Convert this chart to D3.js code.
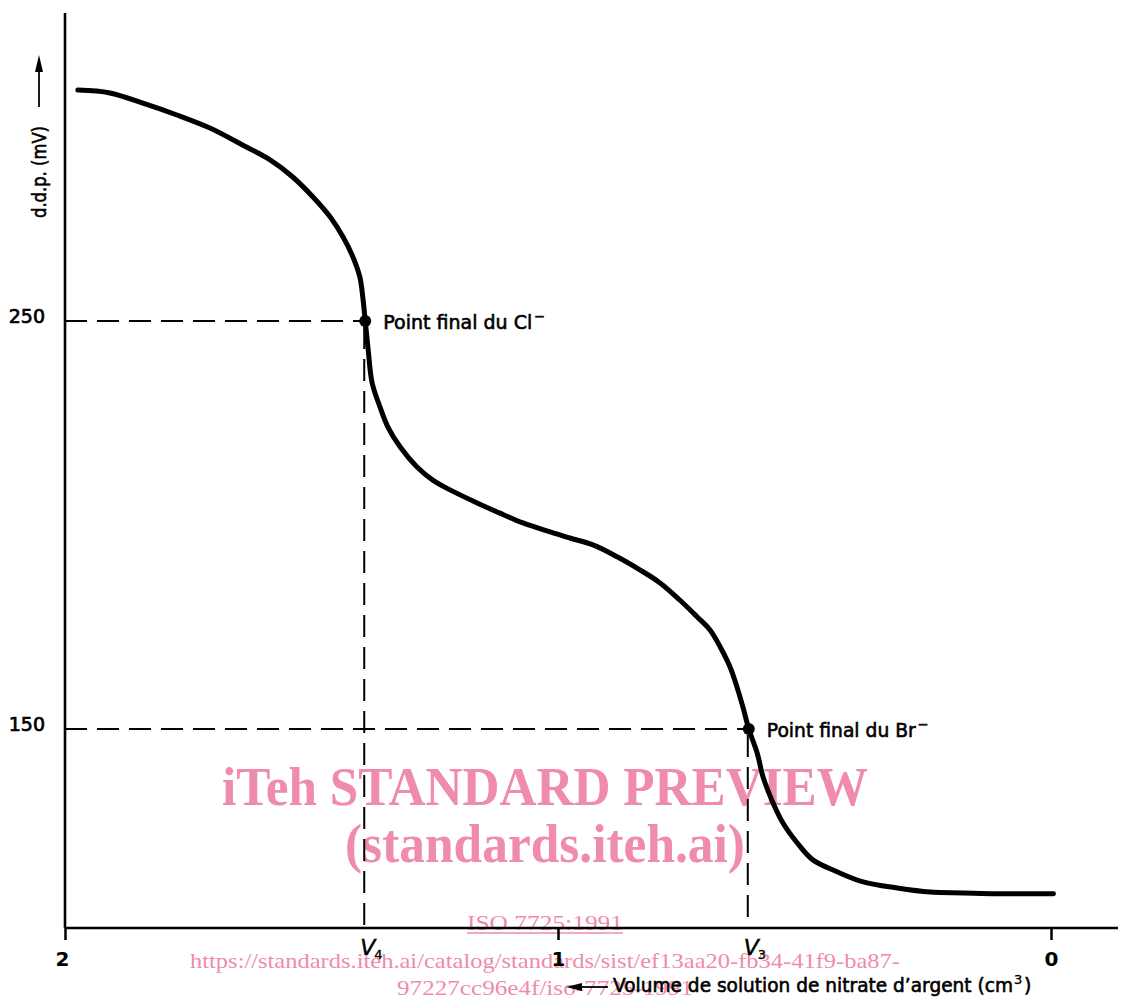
<!DOCTYPE html>
<html>
<head>
<meta charset="utf-8">
<script src="https://cdn.jsdelivr.net/npm/d3@7/dist/d3.min.js"></script>
<style>
  html, body { margin: 0; padding: 0; background: #fff; }
  svg { display: block; }
</style>
</head>
<body>
<svg id="chart" width="1121" height="1001"></svg>
<script>
// ---- Data ----
const xTicks = [2, 1, 0];
const yTicks = [150, 250];

// Titration curve: volume of AgNO3 (cm3) vs d.d.p. (mV)
const volume = [1.974, 1.909, 1.842, 1.773, 1.706, 1.639, 1.584, 1.538, 1.497, 1.462,
  1.436, 1.416, 1.402, 1.396, 1.391, 1.385, 1.377, 1.361, 1.345, 1.320,
  1.286, 1.254, 1.219, 1.164, 1.118, 1.071, 1.016, 0.976, 0.929, 0.880,
  0.834, 0.793, 0.753, 0.718, 0.692, 0.671, 0.651, 0.637, 0.625, 0.613,
  0.596, 0.584, 0.564, 0.544, 0.515, 0.483, 0.434, 0.381, 0.312, 0.245,
  0.178, 0.110, -0.005];
const ddp = [306.6, 305.9, 303.4, 300.5, 297.3, 293.1, 289.5, 285.3, 280.4, 275.5,
  270.6, 265.7, 260.8, 255.9, 250.0, 242.9, 234.8, 228.9, 224.0, 219.1,
  214.2, 211.0, 208.6, 205.4, 202.9, 200.5, 198.3, 196.8, 195.1, 192.2,
  189.0, 185.8, 181.6, 177.5, 174.3, 170.1, 165.2, 160.3, 155.4, 150.0,
  144.1, 138.2, 131.9, 127.0, 122.1, 117.9, 115.0, 112.5, 111.0, 110.0,
  109.8, 109.6, 109.6];

// End points
const endVolumes = [1.391, 0.613];
const endPotentials = [250, 150];
const endLabels = ["Point final du Cl", "Point final du Br"];
const endVLabels = ["4", "3"];

const yLabel = "d.d.p. (mV)";
const xLabel = "Volume de solution de nitrate d\u2019argent (cm";

const watermark1 = "iTeh STANDARD PREVIEW";
const watermark2 = "(standards.iteh.ai)";
const watermark3 = "ISO 7725:1991";
const watermark4 = "https://standards.iteh.ai/catalog/standards/sist/ef13aa20-fb34-41f9-ba87-";
const watermark5 = "97227cc96e4f/iso-7725-1991";

// ---- Drawing ----
const svg = d3.select("#chart");
const font = "'DejaVu Sans', 'DejaVu Sans Condensed', sans-serif";
const pink = "#ef8bab";

const x = d3.scaleLinear().domain([2, 0]).range([65, 1051]);
const y = d3.scaleLinear().domain([101.2, 325.5]).range([928, 13]);

// watermark (beneath)
const wm = svg.append("g").attr("fill", pink).attr("font-family", "'Liberation Serif', 'Times New Roman', serif");
wm.append("text").attr("x", 545).attr("y", 805).attr("text-anchor", "middle")
  .attr("font-size", 54).attr("font-weight", "bold")
  .attr("textLength", 646).attr("lengthAdjust", "spacingAndGlyphs").text(watermark1);
wm.append("text").attr("x", 545).attr("y", 862).attr("text-anchor", "middle")
  .attr("font-size", 54).attr("font-weight", "bold")
  .attr("textLength", 400).attr("lengthAdjust", "spacingAndGlyphs").text(watermark2);
wm.append("text").attr("x", 545).attr("y", 930).attr("text-anchor", "middle")
  .attr("font-size", 22)
  .attr("textLength", 156).attr("lengthAdjust", "spacingAndGlyphs").text(watermark3);
wm.append("line").attr("x1", 467).attr("x2", 623).attr("y1", 933).attr("y2", 933)
  .attr("stroke", pink).attr("stroke-width", 1.5);
wm.append("text").attr("x", 545).attr("y", 968).attr("text-anchor", "middle")
  .attr("font-size", 22)
  .attr("textLength", 710).attr("lengthAdjust", "spacingAndGlyphs").text(watermark4);
wm.append("text").attr("x", 545).attr("y", 995).attr("text-anchor", "middle")
  .attr("font-size", 22)
  .attr("textLength", 296).attr("lengthAdjust", "spacingAndGlyphs").text(watermark5);

// dashed reference lines
const dash = svg.append("g").attr("stroke", "#000").attr("stroke-width", 2)
  .attr("stroke-dasharray", "22,10").attr("fill", "none");
endVolumes.forEach((v, i) => {
  dash.append("line").attr("x1", x(2)).attr("x2", x(v))
    .attr("y1", y(endPotentials[i])).attr("y2", y(endPotentials[i]));
  dash.append("line").attr("x1", x(v) - 1).attr("x2", x(v) - 1)
    .attr("y1", y(endPotentials[i]) + 6).attr("y2", y(101.2));
});

// axes
const xAxis = svg.append("g").attr("transform", `translate(0,${y(101.2)})`)
  .call(d3.axisBottom(x).tickValues(xTicks).tickSize(12).tickSizeOuter(0).tickPadding(12).tickFormat(d3.format("d")));
xAxis.select(".domain").remove();
xAxis.selectAll(".tick line").attr("stroke", "#000").attr("stroke-width", 2.5);
xAxis.selectAll(".tick text").attr("font-family", font).attr("font-size", 20)
  .attr("font-weight", "bold").attr("fill", "#000");
xAxis.selectAll(".tick").filter(d => d === 2).select("text").attr("dx", -3);

const yAxis = svg.append("g").attr("transform", `translate(${x(2)},0)`)
  .call(d3.axisLeft(y).tickValues(yTicks).tickSize(0).tickPadding(20));
yAxis.select(".domain").remove();
yAxis.selectAll(".tick text").attr("font-family", font).attr("font-size", 19)
  .attr("fill", "#000").attr("stroke", "#000").attr("stroke-width", 0.7)
  .attr("transform", "translate(0,-5)");

// axis lines
svg.append("line").attr("x1", x(2)).attr("x2", x(2)).attr("y1", 13).attr("y2", y(101.2))
  .attr("stroke", "#000").attr("stroke-width", 2.6);
svg.append("line").attr("x1", x(2)).attr("x2", 1118).attr("y1", y(101.2)).attr("y2", y(101.2))
  .attr("stroke", "#000").attr("stroke-width", 2.6);

// curve
const pts = volume.map((v, i) => [v, ddp[i]]);
const line = d3.line().x(d => x(d[0])).y(d => y(d[1])).curve(d3.curveCatmullRom.alpha(0.5));
svg.append("path").datum(pts).attr("d", line)
  .attr("fill", "none").attr("stroke", "#000").attr("stroke-width", 5)
  .attr("stroke-linecap", "round").attr("stroke-linejoin", "round");

// end points & labels
function txt(xp, yp, size, s, extra) {
  const t = svg.append("text").attr("x", xp).attr("y", yp)
    .attr("font-family", font).attr("font-size", size).attr("fill", "#000")
    .attr("stroke", "#000").attr("stroke-width", 0.6).text(s);
  if (extra) extra(t);
  return t;
}
endVolumes.forEach((v, i) => {
  svg.append("circle").attr("cx", x(v)).attr("cy", y(endPotentials[i])).attr("r", 6).attr("fill", "#000");
  const lx = x(v) + 18, ly = y(endPotentials[i]) + 8;
  txt(lx, ly, 19, endLabels[i], t => t.attr("textLength", 149).attr("lengthAdjust", "spacingAndGlyphs"));
  txt(lx + 151, ly - 8, 13, "\u2212");
  txt(x(v) - 5, 955, 22, "V", t => t.attr("font-style", "italic").attr("stroke-width", 0.5));
  txt(x(v) + 9, 959, 13, endVLabels[i], t => t.attr("stroke-width", 0.4));
});

// y label with arrow
svg.append("text").attr("transform", "translate(46,172) rotate(-90)")
  .attr("text-anchor", "middle").attr("font-family", font).attr("font-size", 19)
  .attr("fill", "#000").attr("stroke", "#000").attr("stroke-width", 0.6)
  .attr("textLength", 92).attr("lengthAdjust", "spacingAndGlyphs").text(yLabel);
svg.append("line").attr("x1", 39).attr("x2", 39).attr("y1", 107).attr("y2", 66)
  .attr("stroke", "#000").attr("stroke-width", 1.8);
svg.append("path").attr("d", "M39,55 L35,72 L43,72 Z").attr("fill", "#000");

// x label with arrow
txt(613, 992, 19, xLabel, t => t.attr("textLength", 400).attr("lengthAdjust", "spacingAndGlyphs"));
txt(1014, 984, 13, "3", t => t.attr("stroke-width", 0.4));
txt(1024, 992, 19, ")");
svg.append("line").attr("x1", 608).attr("x2", 576).attr("y1", 987).attr("y2", 987)
  .attr("stroke", "#000").attr("stroke-width", 1.8);
svg.append("path").attr("d", "M566,987 L582,983 L582,991 Z").attr("fill", "#000");
</script>
</body>
</html>
